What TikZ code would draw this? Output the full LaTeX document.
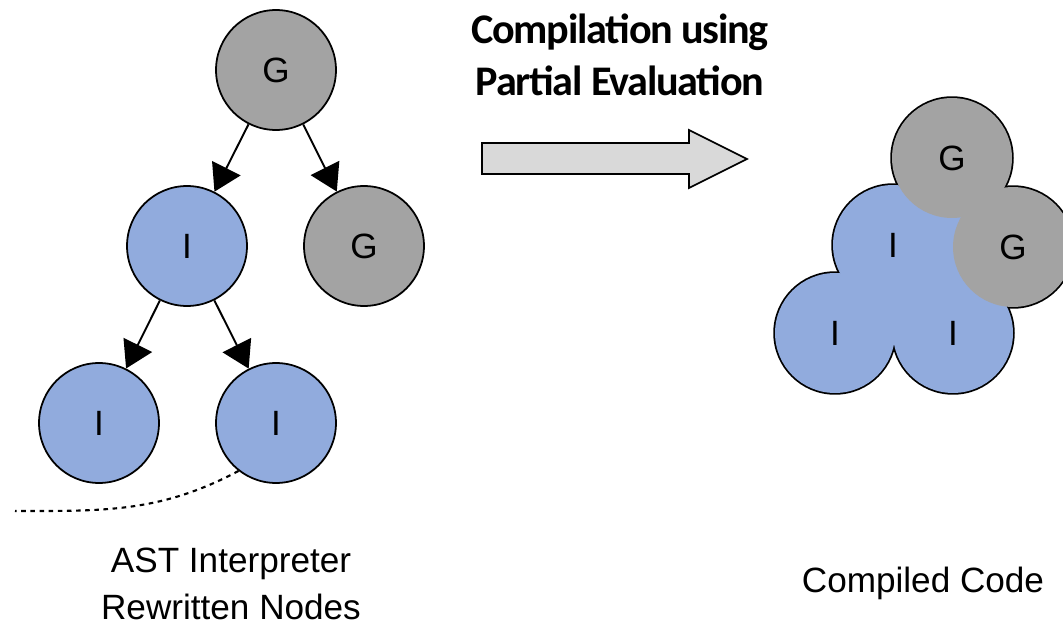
\documentclass[tikz,border=0pt]{standalone}
\usepackage{fontspec}
\setmainfont{Liberation Sans}
\newfontfamily\titlefont[LetterSpace=-3]{Carlito}
\usetikzlibrary{arrows.meta}

\definecolor{interp}{RGB}{145,171,221}
\definecolor{graal}{RGB}{163,163,163}
\definecolor{pagray}{RGB}{217,217,217}

\tikzset{
  ast/.style={circle, minimum size=2.4cm, inner sep=0pt, draw, line width=1pt,
    font=\fontsize{20}{24}\selectfont},
  inode/.style={ast, fill=interp},
  gnode/.style={ast, fill=graal},
  blob/.style={circle, minimum size=2.4cm, inner sep=0pt,
    font=\fontsize{20}{24}\selectfont},
  child/.style={line width=1.1pt, -{Triangle[length=15pt,width=18pt]}},
  caption/.style={align=center, font=\fontsize{20}{27}\selectfont},
}

\begin{document}
\begin{tikzpicture}[x=0.02cm,y=-0.02cm]
 \useasboundingbox (0,0) rectangle (1063,625);
 % interpreter tree
 \begin{scope}
  \node[gnode] (g1) at (276,70) {G};
  \node[inode] (i1) at (187,246) {I};
  \node[gnode] (g2) at (364,246) {G};
  \node[inode] (i2) at (99,423) {I};
  \node[inode] (i3) at (276,423) {I};
  \draw[child] (g1)--(i1);
  \draw[child] (g1)--(g2);
  \draw[child] (i1)--(i2);
  \draw[child] (i1)--(i3);
  \coordinate (cut) at (15,511);
  \draw[line width=1.2pt, dash pattern=on 2.6pt off 2.6pt]
    (i3.-128) to[out=-152,in=0] (cut);
  \node[caption] (astlbl) at (231,584) {AST Interpreter\\Rewritten Nodes};
 \end{scope}
 % partial evaluation
 \begin{scope}
  \node[align=center, font=\titlefont\bfseries\fontsize{24}{29.5}\selectfont]
    (pe) at (620,55) {Compilation using\\Partial Evaluation};
  \draw[fill=pagray, line width=1pt] (482,143)--(689,143)--(689,130)--(747,159)
        --(689,188)--(689,174)--(482,174)--cycle;
 \end{scope}
 % compiled code
 \begin{scope}
  \coordinate (pI1) at (893,245);
  \coordinate (pI2) at (835,333);
  \coordinate (pI3) at (953,333);
  \coordinate (pG1) at (952,158);
  \coordinate (pG2) at (1013,247);
  \foreach \n in {pI1,pI2,pI3,pG1,pG2}
    \draw[line width=2pt] (\n) circle[radius=1.2cm];
  \fill[interp] (pI1)--(pI2)--(pI3)--(pG2)--(pG1)--cycle;
  \node[blob, fill=interp] (cI1) at (pI1) {I};
  \node[blob, fill=interp] (cI2) at (pI2) {I};
  \node[blob, fill=interp] (cI3) at (pI3) {I};
  \node[blob, fill=graal] (cG1) at (pG1) {G};
  \node[blob, fill=graal] (cG2) at (pG2) {G};
  \node[caption] (cclbl) at (923,583) {Compiled Code};
 \end{scope}
\end{tikzpicture}
\end{document}
